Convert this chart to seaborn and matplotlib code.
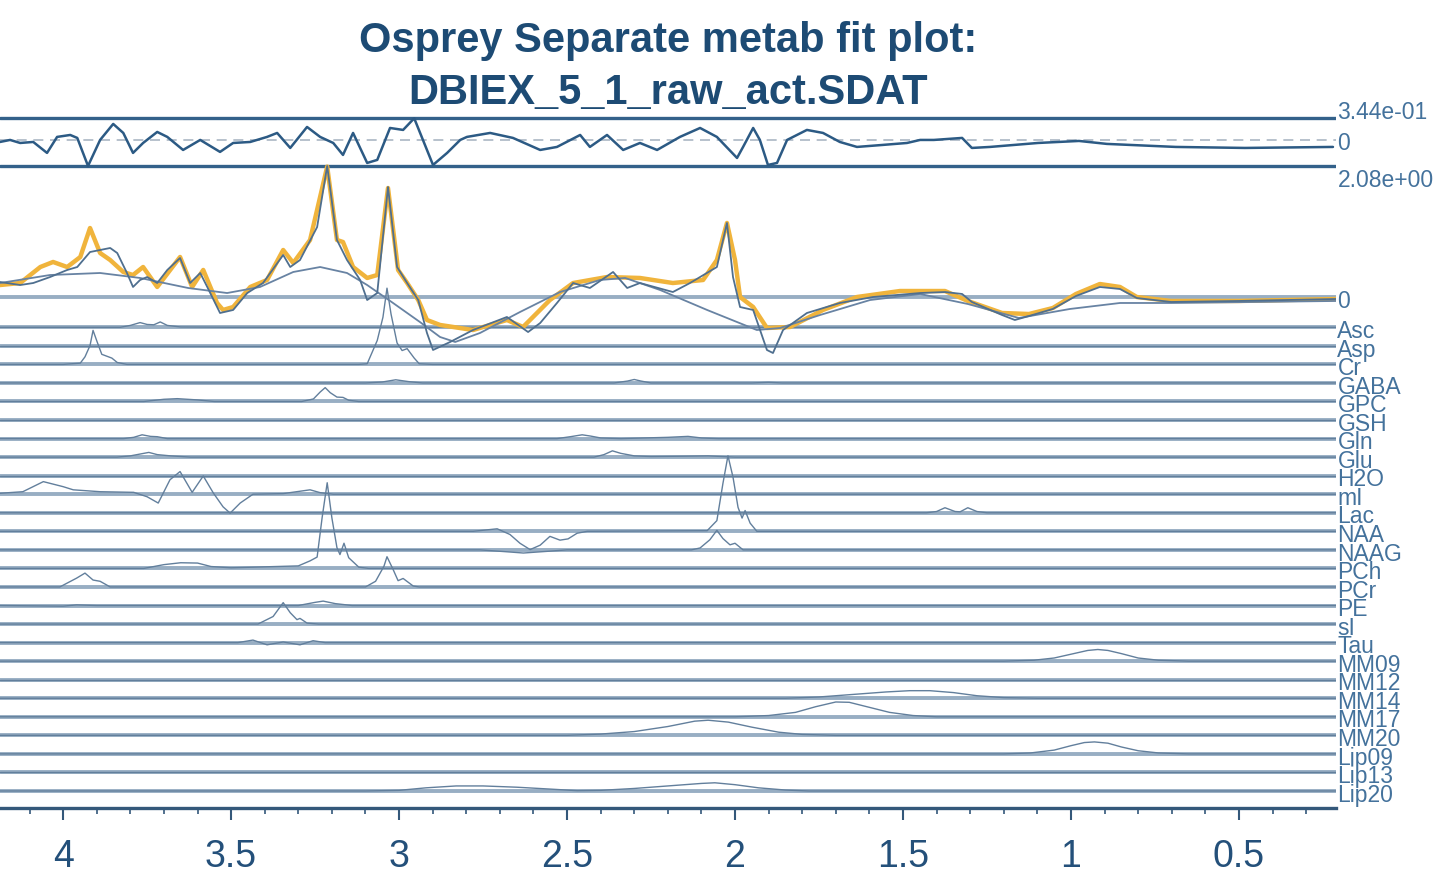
import numpy as np
import pandas as pd
import matplotlib
matplotlib.use("Agg")
import matplotlib.pyplot as plt
import seaborn as sns
from matplotlib.ticker import MultipleLocator

# ---------------- spectra (ppm, amplitude) ----------------
data_ppm = [4.188, 4.128, 4.089, 4.039, 3.988, 3.958, 3.920, 3.890, 3.860, 3.839, 3.810, 3.792,
            3.771, 3.750, 3.720, 3.690, 3.652, 3.622, 3.592, 3.571, 3.533, 3.494, 3.452, 3.405,
            3.345, 3.324, 3.295, 3.244, 3.214, 3.185, 3.155, 3.116, 3.095, 3.065, 3.033, 3.006,
            2.976, 2.943, 2.917, 2.899, 2.848, 2.780, 2.679, 2.616, 2.580, 2.530, 2.482, 2.432,
            2.363, 2.321, 2.283, 2.185, 2.134, 2.054, 2.024, 2.006, 1.985, 1.946, 1.905, 1.887,
            1.857, 1.786, 1.688, 1.589, 1.449, 1.375, 1.324, 1.295, 1.205, 1.167, 1.125, 1.054,
            0.985, 0.914, 0.854, 0.804, 0.702, 0.500, 0.211]
data_amp = [0.238, 0.190, 0.222, 0.317, 0.429, 0.476, 0.714, 0.746, 0.778, 0.698, 0.381, 0.159,
            0.270, 0.317, 0.222, 0.429, 0.619, 0.222, 0.381, 0.159, -0.254, -0.206, 0.063, 0.222,
            0.667, 0.476, 0.587, 1.110, 2.080, 0.905, 0.587, 0.270, -0.048, 0.063, 1.746, 0.476,
            0.222, -0.048, -0.571, -0.841, -0.714, -0.524, -0.317, -0.556, -0.413, -0.095, 0.222, 0.143,
            0.397, 0.143, 0.222, 0.079, 0.222, 0.476, 1.175, 0.317, -0.159, -0.206, -0.841, -0.889,
            -0.524, -0.254, -0.095, 0.000, 0.063, 0.079, 0.048, -0.079, -0.286, -0.365, -0.302, -0.190,
            0.016, 0.159, 0.127, -0.016, -0.079, -0.063, -0.032]

fit_ppm = [4.188, 4.128, 4.068, 4.030, 3.988, 3.949, 3.920, 3.890, 3.860, 3.821, 3.792, 3.762,
           3.720, 3.652, 3.616, 3.583, 3.542, 3.524, 3.494, 3.443, 3.393, 3.345, 3.315, 3.265,
           3.214, 3.185, 3.167, 3.137, 3.095, 3.065, 3.033, 3.003, 2.976, 2.943, 2.917, 2.878,
           2.780, 2.679, 2.631, 2.551, 2.482, 2.381, 2.283, 2.185, 2.095, 2.054, 2.024, 2.000,
           1.985, 1.946, 1.905, 1.836, 1.738, 1.637, 1.509, 1.375, 1.307, 1.205, 1.125, 1.054,
           0.985, 0.914, 0.854, 0.804, 0.702, 0.500, 0.211]
fit_amp = [0.190, 0.222, 0.476, 0.556, 0.476, 0.635, 1.095, 0.698, 0.587, 0.397, 0.349, 0.476,
           0.159, 0.635, 0.159, 0.429, -0.095, -0.206, -0.159, 0.159, 0.270, 0.746, 0.540, 0.905,
           2.070, 0.905, 0.873, 0.476, 0.302, 0.349, 1.730, 0.429, 0.222, -0.048, -0.365, -0.444,
           -0.524, -0.365, -0.476, -0.048, 0.222, 0.317, 0.302, 0.222, 0.270, 0.587, 1.175, 0.587,
           0.000, -0.159, -0.492, -0.476, -0.206, 0.000, 0.095, 0.095, -0.063, -0.254, -0.270, -0.175,
           0.048, 0.206, 0.159, 0.000, -0.063, -0.063, -0.032]

baseline_ppm = [4.188, 4.039, 3.890, 3.771, 3.628, 3.512, 3.414, 3.315, 3.235, 3.155, 3.095, 3.018,
                2.938, 2.878, 2.833, 2.759, 2.640, 2.521, 2.402, 2.327, 2.223, 2.083, 1.935, 1.866,
                1.747, 1.598, 1.449, 1.307, 1.155, 1.003, 0.854, 0.702, 0.211]
baseline_amp = [0.222, 0.349, 0.381, 0.302, 0.143, 0.063, 0.159, 0.397, 0.476, 0.381, 0.190, -0.095,
                -0.397, -0.635, -0.714, -0.571, -0.238, 0.079, 0.270, 0.302, 0.111, -0.206, -0.524, -0.492,
                -0.286, -0.048, 0.048, -0.111, -0.333, -0.190, -0.095, -0.095, -0.063]

residual_ppm = [4.188, 4.158, 4.128, 4.089, 4.048, 4.018, 3.979, 3.958, 3.926, 3.890, 3.851, 3.821,
                3.792, 3.762, 3.720, 3.690, 3.643, 3.592, 3.533, 3.494, 3.443, 3.393, 3.363, 3.324,
                3.274, 3.235, 3.196, 3.167, 3.137, 3.095, 3.065, 3.027, 2.988, 2.955, 2.929, 2.899,
                2.857, 2.818, 2.798, 2.729, 2.661, 2.580, 2.530, 2.461, 2.432, 2.381, 2.333, 2.283,
                2.232, 2.164, 2.104, 2.054, 1.994, 1.976, 1.946, 1.926, 1.902, 1.875, 1.845, 1.786,
                1.738, 1.688, 1.637, 1.560, 1.488, 1.449, 1.408, 1.324, 1.295, 1.241, 1.098, 0.976,
                0.893, 0.688, 0.482, 0.220]
residual_amp = [-0.032, 0.000, -0.048, -0.032, -0.206, 0.048, 0.079, 0.032, -0.413, 0.000, 0.254, 0.111,
                -0.206, -0.048, 0.127, 0.048, -0.159, 0.000, -0.190, -0.048, -0.032, 0.048, 0.111, -0.127,
                0.206, 0.048, -0.048, -0.238, 0.111, -0.365, -0.317, 0.190, 0.159, 0.344, 0.000, -0.397,
                -0.206, 0.000, 0.048, 0.111, 0.032, -0.159, -0.111, 0.079, -0.111, 0.079, -0.159, -0.048,
                -0.159, 0.048, 0.190, 0.048, -0.286, -0.111, 0.190, 0.000, -0.397, -0.365, 0.000, 0.159,
                0.111, -0.032, -0.111, -0.079, -0.048, 0.000, 0.000, 0.032, -0.127, -0.111, -0.048, -0.016,
                -0.063, -0.111, -0.127, -0.111]

# ---------------- individual metabolite fits ----------------
asc_ppm = [4.188, 3.830, 3.800, 3.771, 3.750, 3.730, 3.711, 3.690, 3.650, 3.500, 0.211]
asc_amp = [0.0, 0.0, 0.03, 0.075, 0.045, 0.04, 0.085, 0.03, 0.005, 0.0, 0.0]
asp_ppm = [4.188, 0.211]
asp_amp = [0.0, 0.0]
cr_ppm = [4.188, 4.000, 3.949, 3.935, 3.920, 3.911, 3.899, 3.885, 3.870, 3.855, 3.839, 3.810,
          3.120, 3.095, 3.065, 3.048, 3.036, 3.024, 3.006, 2.991, 2.976, 2.955, 2.940, 2.900, 0.211]
cr_amp = [0.0, 0.0, 0.02, 0.12, 0.30, 0.54, 0.36, 0.16, 0.13, 0.10, 0.03, 0.0,
          0.0, 0.01, 0.38, 0.75, 1.21, 0.80, 0.34, 0.22, 0.25, 0.10, 0.01, 0.0, 0.0]
gaba_ppm = [4.188, 3.100, 3.050, 3.010, 2.970, 2.930, 2.360, 2.320, 2.300, 2.280, 2.250, 1.950, 1.900, 1.860, 0.211]
gaba_amp = [0.0, 0.0, 0.015, 0.05, 0.02, 0.0, 0.0, 0.03, 0.055, 0.03, 0.0, 0.0, 0.01, 0.0, 0.0]
gpc_ppm = [4.188, 3.760, 3.700, 3.660, 3.600, 3.550, 3.290, 3.255, 3.235, 3.220, 3.205, 3.185,
           3.167, 3.150, 3.120, 0.211]
gpc_amp = [0.0, 0.0, 0.035, 0.045, 0.025, 0.0, 0.0, 0.04, 0.15, 0.22, 0.14, 0.07,
           0.065, 0.02, 0.0, 0.0]
gsh_ppm = [4.188, 0.211]
gsh_amp = [0.0, 0.0]
gln_ppm = [4.188, 3.820, 3.790, 3.765, 3.740, 3.720, 3.690, 2.530, 2.490, 2.455, 2.430, 2.400,
           2.340, 2.200, 2.140, 2.100, 2.050, 0.211]
gln_amp = [0.0, 0.0, 0.02, 0.06, 0.035, 0.03, 0.0, 0.0, 0.03, 0.06, 0.04, 0.01,
           0.0, 0.02, 0.035, 0.01, 0.0, 0.0]
glu_ppm = [4.188, 3.840, 3.800, 3.760, 3.745, 3.720, 3.680, 3.620, 2.420, 2.390, 2.365, 2.340,
           2.300, 2.250, 2.150, 2.080, 2.000, 0.211]
glu_amp = [0.0, 0.0, 0.02, 0.06, 0.075, 0.04, 0.02, 0.0, 0.0, 0.04, 0.10, 0.06,
           0.02, 0.01, 0.015, 0.02, 0.0, 0.0]
h2o_ppm = [4.188, 0.211]
h2o_amp = [0.0, 0.0]
mi_ppm = [4.188, 4.120, 4.059, 4.000, 3.970, 3.890, 3.790, 3.750, 3.717, 3.682, 3.652, 3.616,
          3.583, 3.553, 3.524, 3.503, 3.473, 3.435, 3.345, 3.265, 3.235, 3.196, 0.211]
mi_amp = [0.015, 0.04, 0.20, 0.12, 0.07, 0.04, 0.03, -0.04, -0.14, 0.23, 0.36, 0.03,
          0.29, 0.02, -0.20, -0.30, -0.14, 0.0, 0.01, 0.07, 0.025, 0.0, 0.0]
lac_ppm = [4.188, 1.430, 1.400, 1.375, 1.345, 1.330, 1.307, 1.280, 1.250, 0.211]
lac_amp = [0.0, 0.0, 0.02, 0.08, 0.02, 0.015, 0.08, 0.02, 0.0, 0.0]
naa_ppm = [4.188, 2.780, 2.708, 2.670, 2.640, 2.610, 2.580, 2.551, 2.521, 2.497, 2.470, 2.440,
           2.083, 2.054, 2.036, 2.021, 2.006, 1.991, 1.979, 1.970, 1.955, 1.935, 0.211]
naa_amp = [0.0, 0.0, 0.04, -0.05, -0.19, -0.29, -0.22, -0.08, -0.14, -0.12, -0.03, 0.0,
           0.01, 0.17, 0.76, 1.20, 0.86, 0.38, 0.21, 0.33, 0.13, 0.0, 0.0]
naag_ppm = [4.188, 2.760, 2.680, 2.630, 2.550, 2.500, 2.130, 2.104, 2.075, 2.054, 2.036, 2.015,
            2.000, 1.976, 0.211]
naag_amp = [0.0, 0.0, -0.03, -0.05, -0.02, 0.0, 0.0, 0.03, 0.16, 0.31, 0.18, 0.08,
            0.105, 0.0, 0.0]
pch_ppm = [4.188, 3.760, 3.700, 3.650, 3.600, 3.560, 3.500, 3.300, 3.265, 3.244, 3.229, 3.214,
           3.200, 3.185, 3.176, 3.164, 3.150, 3.120, 3.090, 0.211]
pch_amp = [0.0, 0.0, 0.06, 0.09, 0.085, 0.03, 0.01, 0.04, 0.12, 0.18, 0.81, 1.36,
           0.80, 0.33, 0.22, 0.40, 0.17, 0.02, 0.0, 0.0]
pcr_ppm = [4.188, 4.010, 3.960, 3.935, 3.911, 3.890, 3.860, 3.100, 3.070, 3.045, 3.036, 3.018,
           3.003, 2.988, 2.958, 2.940, 0.211]
pcr_amp = [0.0, 0.0, 0.14, 0.22, 0.11, 0.09, 0.0, 0.0, 0.09, 0.33, 0.48, 0.28,
           0.10, 0.135, 0.015, 0.0, 0.0]
pe_ppm = [4.188, 4.000, 3.960, 3.900, 3.300, 3.250, 3.226, 3.190, 3.140, 0.211]
pe_amp = [0.0, -0.01, 0.01, 0.0, 0.0, 0.05, 0.07, 0.03, 0.0, 0.0]
si_ppm = [4.188, 3.420, 3.375, 3.345, 3.324, 3.304, 3.295, 3.274, 3.240, 0.211]
si_amp = [0.0, 0.0, 0.12, 0.34, 0.18, 0.07, 0.09, 0.015, 0.0, 0.0]
tau_ppm = [4.188, 3.480, 3.435, 3.393, 3.345, 3.295, 3.256, 3.220, 0.211]
tau_amp = [0.0, 0.0, 0.04, -0.035, 0.01, -0.035, 0.03, 0.0, 0.0]
mm09_ppm = [4.188, 1.200, 1.110, 1.050, 1.000, 0.950, 0.920, 0.890, 0.850, 0.800, 0.740, 0.650, 0.211]
mm09_amp = [0.0, 0.0, 0.015, 0.05, 0.11, 0.17, 0.185, 0.17, 0.12, 0.05, 0.015, 0.0, 0.0]
mm12_ppm = [4.188, 0.211]
mm12_amp = [0.0, 0.0]
mm14_ppm = [4.188, 1.850, 1.750, 1.650, 1.550, 1.480, 1.420, 1.350, 1.280, 1.200, 1.100, 0.211]
mm14_amp = [0.0, 0.0, 0.02, 0.06, 0.10, 0.12, 0.12, 0.09, 0.04, 0.01, 0.0, 0.0]
mm17_ppm = [4.188, 2.000, 1.900, 1.820, 1.760, 1.700, 1.660, 1.600, 1.540, 1.470, 1.400, 0.211]
mm17_amp = [0.0, 0.0, 0.02, 0.07, 0.16, 0.235, 0.23, 0.15, 0.07, 0.02, 0.0, 0.0]
mm20_ppm = [4.188, 2.500, 2.400, 2.300, 2.200, 2.120, 2.080, 2.020, 1.950, 1.870, 1.800, 1.700, 0.211]
mm20_amp = [0.0, 0.0, 0.02, 0.06, 0.14, 0.225, 0.24, 0.21, 0.13, 0.05, 0.015, 0.0, 0.0]
lip09_ppm = [4.188, 1.200, 1.120, 1.050, 1.000, 0.960, 0.930, 0.890, 0.850, 0.800, 0.740, 0.650, 0.211]
lip09_amp = [0.0, 0.0, 0.015, 0.06, 0.13, 0.18, 0.19, 0.17, 0.11, 0.05, 0.015, 0.0, 0.0]
lip13_ppm = [4.188, 0.211]
lip13_amp = [0.0, 0.0]
lip20_ppm = [4.188, 3.100, 3.000, 2.920, 2.830, 2.750, 2.650, 2.550, 2.470, 2.400, 2.300, 2.200,
             2.100, 2.060, 2.000, 1.930, 1.850, 1.780, 0.211]
lip20_amp = [0.0, 0.0, 0.01, 0.05, 0.08, 0.08, 0.06, 0.03, 0.005, 0.01, 0.04, 0.08,
             0.12, 0.13, 0.10, 0.05, 0.015, 0.0, 0.0]

metab_names = ["Asc", "Asp", "Cr", "GABA", "GPC", "GSH", "Gln", "Glu", "H2O", "mI", "Lac", "NAA",
               "NAAG", "PCh", "PCr", "PE", "sI", "Tau", "MM09", "MM12", "MM14", "MM17", "MM20",
               "Lip09", "Lip13", "Lip20"]
metab_ppm = [asc_ppm, asp_ppm, cr_ppm, gaba_ppm, gpc_ppm, gsh_ppm, gln_ppm, glu_ppm, h2o_ppm,
             mi_ppm, lac_ppm, naa_ppm, naag_ppm, pch_ppm, pcr_ppm, pe_ppm, si_ppm, tau_ppm,
             mm09_ppm, mm12_ppm, mm14_ppm, mm17_ppm, mm20_ppm, lip09_ppm, lip13_ppm, lip20_ppm]
metab_amp = [asc_amp, asp_amp, cr_amp, gaba_amp, gpc_amp, gsh_amp, gln_amp, glu_amp, h2o_amp,
             mi_amp, lac_amp, naa_amp, naag_amp, pch_amp, pcr_amp, pe_amp, si_amp, tau_amp,
             mm09_amp, mm12_amp, mm14_amp, mm17_amp, mm20_amp, lip09_amp, lip13_amp, lip20_amp]

tick_values = [4, 3.5, 3, 2.5, 2, 1.5, 1, 0.5]
tick_labels = ["4", "3.5", "3", "2.5", "2", "1.5", "1", "0.5"]

title_lines = ["Osprey Separate metab fit plot:", "DBIEX_5_1_raw_act.SDAT"]

# ---------------- styling ----------------
sns.set_theme(style="white")
plt.rcParams["font.family"] = ["Liberation Sans", "DejaVu Sans"]

C_TITLE = "#1d4b74"
C_TICK = "#24507a"
C_LABEL = "#44729c"
C_AXIS = "#34587a"
C_ROW = "#98aec3"
C_METAB = "#627f9c"
C_DATA = "#4f6f8f"
C_BASE = "#6883a3"
C_FIT = "#f0b43c"
C_RES = "#2c5a84"
C_RESBOX = "#33618a"

fig = plt.figure(figsize=(14.4, 8.76), dpi=100)
ax = fig.add_axes([0.0, 1 - 808 / 876, 1336 / 1440, (808 - 105) / 876])


def trace(ppm, amp, offset, color, lw, z):
    frame = pd.DataFrame({"ppm": ppm, "amp": np.asarray(amp, dtype=float) + offset})
    sns.lineplot(data=frame, x="ppm", y="amp", ax=ax, estimator=None, sort=False,
                 legend=False, color=color, linewidth=lw, zorder=z)


def side_label(text, level, dy, size=16.5):
    ax.annotate(text, xy=(1.0, level), xycoords=("axes fraction", "data"),
                xytext=(1, dy), textcoords="offset points", ha="left", va="baseline",
                fontsize=size, color=C_LABEL, annotation_clip=False)


spec_max = max(data_amp)
res_min = min(residual_amp)
res_max = max(residual_amp)
res_offset = spec_max - res_min

# residual panel
ax.axhline(spec_max, color=C_RESBOX, lw=2.4, zorder=3)
ax.axhline(res_offset + res_max, color=C_RESBOX, lw=2.4, zorder=3)
ax.axhline(res_offset, color="#aab6c3", lw=1.2, ls=(0, (6, 4)), zorder=2)
trace(residual_ppm, residual_amp, res_offset, C_RES, 1.8, 4)
side_label(f"{res_max:.2e}", res_offset + res_max, -0.8)
side_label("0", res_offset, -7.5)
side_label(f"{spec_max:.2e}", spec_max, -15.0)

# main spectrum
ax.axhline(0.0, color=C_ROW, lw=2.8, zorder=1)
trace(fit_ppm, fit_amp, 0.0, C_FIT, 3.2, 5)
trace(baseline_ppm, baseline_amp, 0.0, C_BASE, 1.3, 6)
trace(data_ppm, data_amp, 0.0, C_DATA, 1.3, 7)
side_label("0", 0.0, -7.7)

# stacked metabolite fits
row_start = -0.481
row_step = 0.2944
for i, (name, ppm, amp) in enumerate(zip(metab_names, metab_ppm, metab_amp)):
    level = row_start - i * row_step
    ax.axhline(level, color=C_ROW, lw=2.8, zorder=1)
    trace(ppm, amp, level, C_METAB, 1.0, 2)
    side_label(name, level, -7.7)

# axes
ax.set_xlim(max(data_ppm), min(data_ppm))
ax.set_ylim(-(808 - 297) / 63, (297 - 105) / 63)
ax.set_xlabel("")
ax.set_ylabel("")
ax.set_yticks([])
ax.set_xticks(tick_values)
ax.set_xticklabels(tick_labels)
ax.xaxis.set_minor_locator(MultipleLocator(0.1))
ax.tick_params(axis="x", which="major", direction="out", length=8.5, width=1.5,
               color=C_AXIS, labelcolor=C_TICK, labelsize=27, pad=14, bottom=True)
ax.tick_params(axis="x", which="minor", direction="out", length=4.5, width=1.2,
               color=C_AXIS, bottom=True)
for side in ("top", "left", "right"):
    ax.spines[side].set_visible(False)
ax.spines["bottom"].set_color(C_AXIS)
ax.spines["bottom"].set_linewidth(2.4)
ax.set_facecolor("white")

fig.text(668 / 1440, 1 - 52 / 876, title_lines[0], ha="center", va="baseline",
         fontsize=30, fontweight="bold", color=C_TITLE)
fig.text(668 / 1440, 1 - 104 / 876, title_lines[1], ha="center", va="baseline",
         fontsize=30, fontweight="bold", color=C_TITLE)

fig.savefig("out.png", dpi=100, facecolor="white")
